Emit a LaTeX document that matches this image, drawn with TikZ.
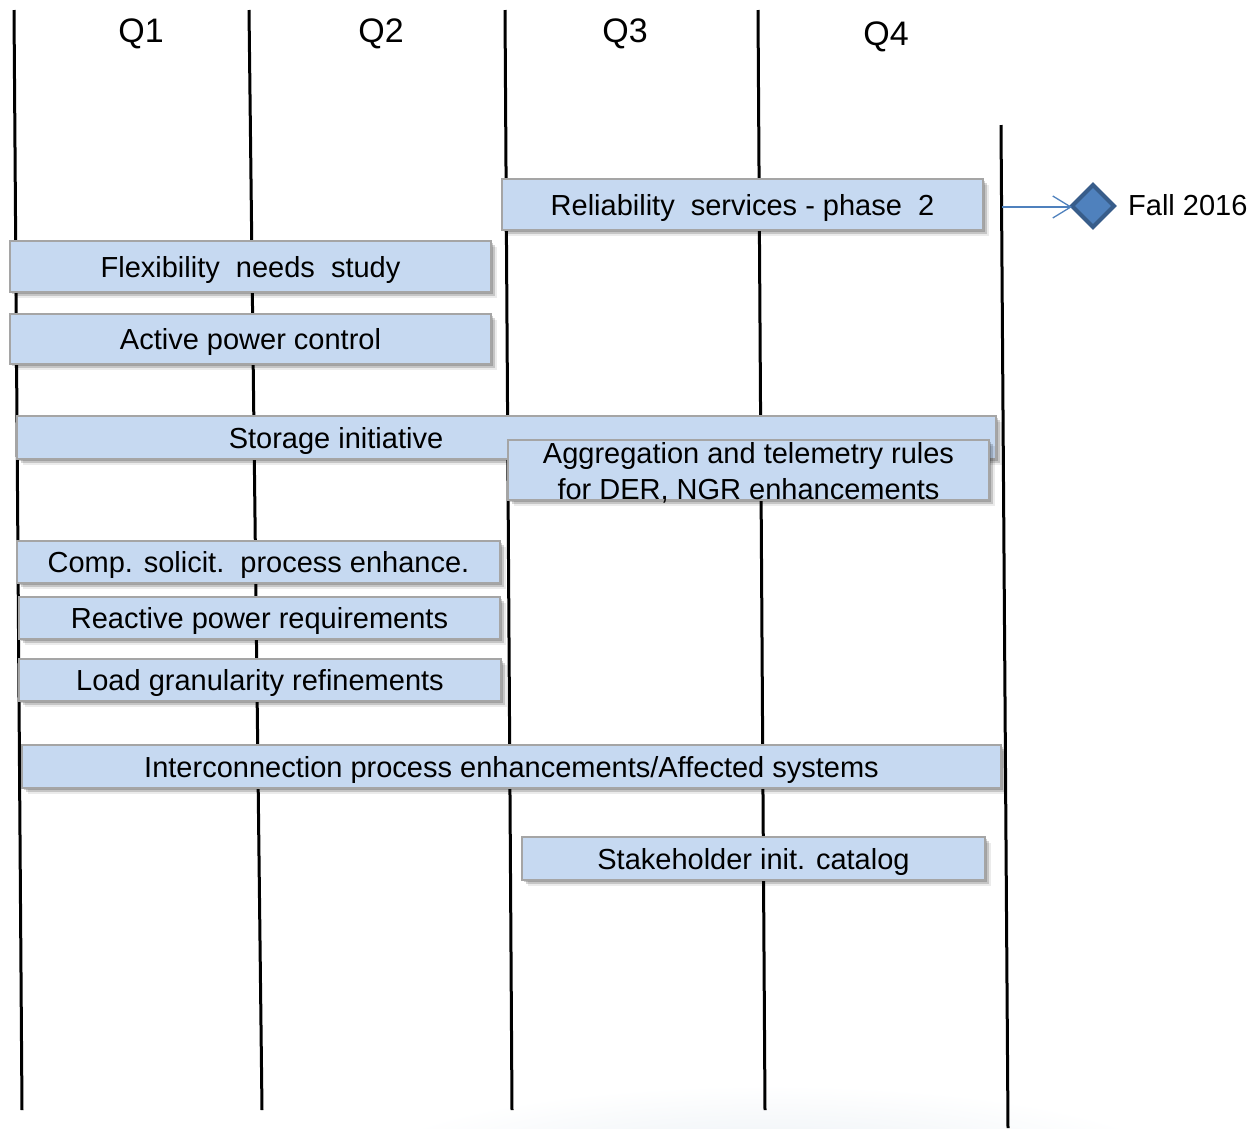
\documentclass[tikz,border=0pt]{standalone}
\usepackage{fontspec}
\setmainfont{Liberation Sans}
\usetikzlibrary{shadows,shapes.geometric,arrows.meta}
\definecolor{boxfill}{RGB}{198,217,241}
\definecolor{boxline}{RGB}{165,165,165}
\definecolor{accent}{RGB}{79,129,189}
\definecolor{accentdark}{RGB}{56,93,138}
\definecolor{bgtint}{RGB}{232,238,243}
\begin{document}
\begin{tikzpicture}[x=1pt,y=-1pt,
  bar/.style={draw=boxline, line width=1.5pt, fill=boxfill, inner sep=0pt,
    drop shadow={shadow xshift=2pt, shadow yshift=-2pt, opacity=0.18, fill=black},
    drop shadow={shadow xshift=4pt, shadow yshift=-4pt, opacity=0.16, fill=black},
    drop shadow={shadow xshift=6pt, shadow yshift=-6pt, opacity=0.08, fill=black},
    font=\fontsize{29}{36}\selectfont, align=center, text height=21pt, text depth=0pt},
  barlabel/.style={font=\fontsize{29}{36}\selectfont, inner sep=0pt, text height=21pt, text depth=0pt},
  qline/.style={line width=3pt, black},
  qlabel/.style={font=\fontsize{34}{40}\selectfont, inner sep=0pt, text height=24pt, text depth=0pt}]
\useasboundingbox (0,0) rectangle (1256,1128);
\fill[white] (0,0) rectangle (1256,1128);
\begin{scope}
\clip (0,0) rectangle (1256,1128);
\shade[inner color=bgtint, outer color=white] (770,1175) ellipse [x radius=420, y radius=90];
\end{scope}
% quarter lines
\draw[qline] (14,10) -- (22,1110);
\draw[qline] (249,10) -- (262,1110);
\draw[qline] (505,10) -- (512,1110);
\draw[qline] (758,10) -- (765,1110);
\draw[qline] (1001,125) -- (1008,1128);
% quarter labels
\node[qlabel] (q1) at (141,30) {Q1};
\node[qlabel] (q2) at (381,30) {Q2};
\node[qlabel] (q3) at (625,30) {Q3};
\node[qlabel] (q4) at (886,33) {Q4};
% bars
\node[bar, minimum width=481, minimum height=51] (rel) at (742.5,204.5) {Reliability\ \ services - phase\ \ 2};
\node[bar, minimum width=481, minimum height=51] (flex) at (250.5,266.5) {Flexibility\ \ needs\ \ study};
\node[bar, minimum width=481, minimum height=50] (act) at (250.5,339) {Active power control};
\node[bar, minimum width=979, minimum height=43] (stor) at (506.5,437.5) {};
\node[barlabel] (storlbl) at (336,438) {Storage initiative};
\node[bar, minimum width=481, minimum height=60, text height=58pt, text depth=0pt] (agg) at (748.5,470) {Aggregation and telemetry rules\\for DER, NGR enhancements};
\node[bar, minimum width=483, minimum height=42] (comp) at (258.5,562) {Comp. solicit.\ \ process enhance.};
\node[bar, minimum width=481, minimum height=42] (react) at (259.5,618) {Reactive power requirements};
\node[bar, minimum width=482, minimum height=42] (load) at (260,680) {Load granularity refinements};
\node[bar, minimum width=979, minimum height=43] (inter) at (511.5,766.5) {Interconnection process enhancements/Affected systems};
\node[bar, minimum width=463, minimum height=43] (stake) at (753.5,858.5) {Stakeholder init. catalog};
% milestone
\node[diamond, aspect=1, draw=accentdark, fill=accent, line width=4pt, minimum size=42, inner sep=0pt, outer sep=0pt] (ms) at (1093,206) {};
\node[barlabel, anchor=west] (fall) at (1128,205) {Fall 2016};
\coordinate (start) at (1002,207);
\draw[accent, line width=1.3pt, -{Straight Barb[length=18pt,width=22pt]}] (start) -- (start -| ms.west);
\end{tikzpicture}
\end{document}
